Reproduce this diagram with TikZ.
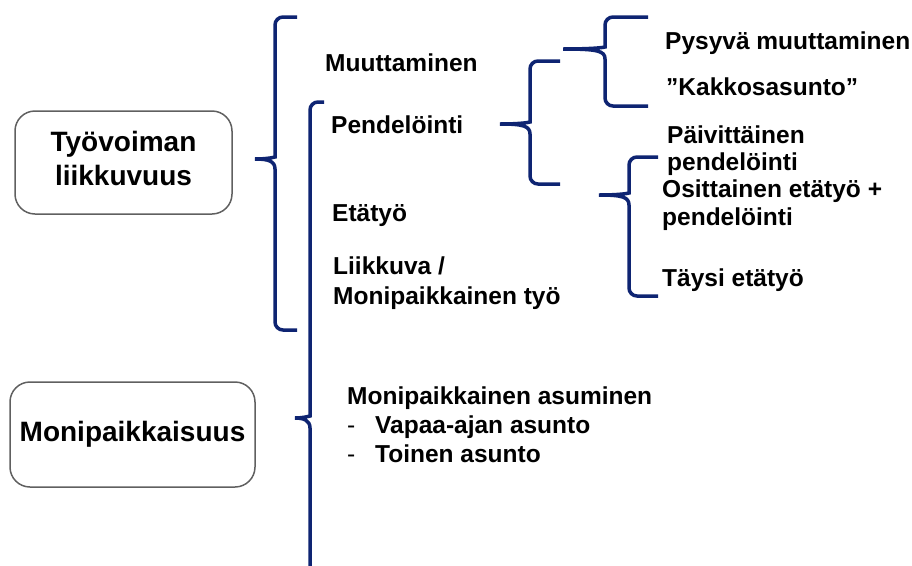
\documentclass[tikz,border=0pt]{standalone}
\usepackage{fontspec}
\setmainfont{Liberation Sans}
\usepackage{xcolor}
\usetikzlibrary{positioning}
\definecolor{bracenavy}{HTML}{0E2472}
\definecolor{boxgray}{HTML}{606060}

\begin{document}
\begin{tikzpicture}[
  x=1pt, y=-1pt,
  mainbox/.style={
    rectangle,
    draw=boxgray,
    line width=1.5pt,
    rounded corners=20pt,
    align=center,
    font=\fontsize{28}{34}\selectfont\bfseries,
    inner sep=0pt
  },
  item/.style={
    anchor=base west,
    inner sep=0pt,
    align=left,
    font=\fontsize{24.5}{28}\selectfont\bfseries
  },
  brace/.style={
    draw=bracenavy,
    line width=3.5pt,
    line cap=butt
  }
]
\useasboundingbox (0,0) rectangle (912,565);

% Main boxes
\node[mainbox, minimum width=217pt, minimum height=103pt, text depth=8pt] (tyovoima) at (123.5,162.5) {Työvoiman\\liikkuvuus};
\node[mainbox, minimum width=245pt, minimum height=105pt] (monipaikka) at (132.5,434.5) {Monipaikkaisuus};

% Items (multi-line nodes sit on their last line)
\node[item] (muutto)   at (325,71)  {Muuttaminen};
\node[item] (pendel)   at (331,133) {Pendelöinti};
\node[item] (etatyo)   at (332,221) {Etätyö};
\node[item, font=\fontsize{24.5}{30}\selectfont\bfseries] (liikkuva) at (333,304) {Liikkuva /\\Monipaikkainen työ};
\node[item] (pysyva)   at (665,49)  {Pysyvä muuttaminen};
\node[item] (kakkos)   at (666,95)  {”Kakkosasunto”};
\node[item, font=\fontsize{24.5}{27}\selectfont\bfseries] (paivit) at (667,170) {Päivittäinen\\pendelöinti};
\node[item] (osittain) at (662,225) {Osittainen etätyö +\\pendelöinti};
\node[item] (taysi)    at (662,286) {Täysi etätyö};
\node[item, font=\fontsize{24.5}{29}\selectfont\bfseries] (asuminen) at (347,462)
  {Monipaikkainen asuminen\\\makebox[28pt][l]{\mdseries -}Vapaa-ajan asunto\\\makebox[28pt][l]{\mdseries -}Toinen asunto};

% Braces
\draw[brace] (297,17) [rounded corners=8pt] -- (275,17) -- (275,149) [sharp corners]
  .. controls (275,157) and (268,159) .. (255,159)
  .. controls (268,159) and (275,161) .. (275,169) [rounded corners=8pt] -- (275,330) -- (297,330);

\draw[brace] (324,102) [rounded corners=8pt] -- (310,102) -- (310,408) [sharp corners]
  .. controls (310,416) and (303,418) .. (295,418)
  .. controls (303,418) and (310,420) .. (310,428) -- (310,575);

\draw[brace] (560,61) [rounded corners=8pt] -- (530,61) -- (530,114) [sharp corners]
  .. controls (530,122) and (523,124) .. (500,124)
  .. controls (523,124) and (530,126) .. (530,134) [rounded corners=8pt] -- (530,184) -- (560,184);

\draw[brace] (648,17) [rounded corners=8pt] -- (605,17) -- (605,39) [sharp corners]
  .. controls (605,47) and (598,49) .. (563,49)
  .. controls (598,49) and (605,51) .. (605,59) [rounded corners=8pt] -- (605,106) -- (648,106);

\draw[brace] (658,157) [rounded corners=8pt] -- (629,157) -- (629,185) [sharp corners]
  .. controls (629,193) and (622,195) .. (599,195)
  .. controls (622,195) and (629,197) .. (629,205) [rounded corners=8pt] -- (629,296) -- (658,296);

\end{tikzpicture}
\end{document}
